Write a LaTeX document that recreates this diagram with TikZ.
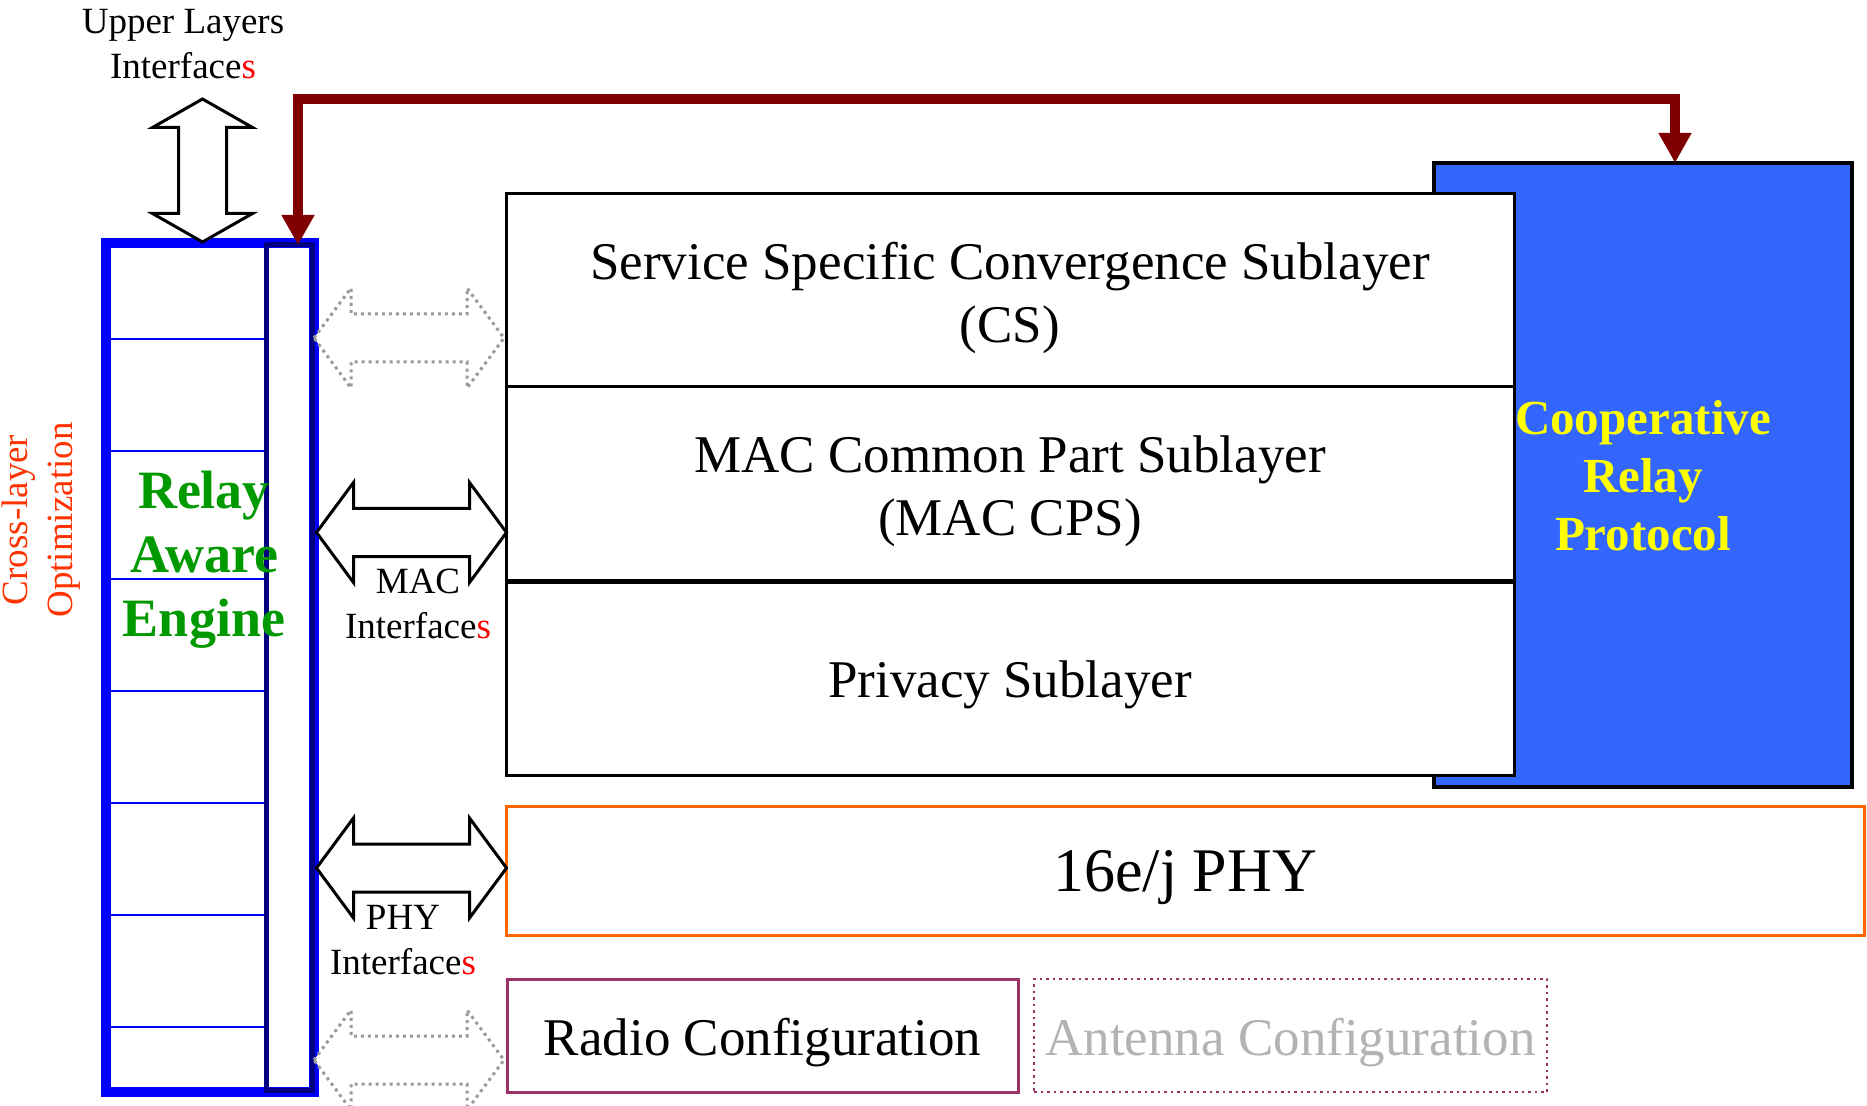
\documentclass[tikz,border=0pt]{standalone}
\usepackage{fontspec}
\setmainfont{Liberation Serif}
\usetikzlibrary{arrows.meta,calc}
\definecolor{engblue}{HTML}{0000FF}
\definecolor{engnavy}{HTML}{000080}
\definecolor{crpblue}{HTML}{3366FF}
\definecolor{darkred}{HTML}{800000}
\definecolor{phyorange}{HTML}{FF6600}
\definecolor{radiopurple}{HTML}{993366}
\definecolor{crossred}{HTML}{FF3300}
\definecolor{enggreen}{HTML}{009900}
\definecolor{antgray}{HTML}{B3B3B3}
\definecolor{dotgray}{HTML}{999999}
\definecolor{crpyellow}{HTML}{FFFF00}
\tikzset{
  pics/hdouble/.style={code={
    \path[pic actions] (-95,0) -- (-58,-50) -- (-58,-24) -- (58,-24) -- (58,-50) -- (95,0)
      -- (58,50) -- (58,24) -- (-58,24) -- (-58,50) -- cycle;}},
  pics/vdouble/.style={code={
    \path[pic actions] (0,-71.5) -- (50,-43) -- (24,-43) -- (24,43) -- (50,43) -- (0,71.5)
      -- (-50,43) -- (-24,43) -- (-24,-43) -- (-50,-43) -- cycle;}}
}
\begin{document}
\begin{tikzpicture}[x=0.5pt,y=-0.5pt,
  every node/.style={inner sep=0pt, outer sep=0pt},
  layerbox/.style={draw=black, line width=1.5pt, fill=white, rectangle},
  boxtext/.style={align=center, yshift=-3.5pt, font=\fontsize{26.5}{31.5}\selectfont},
  lbl/.style={align=center, font=\fontsize{18.5}{22.5}\selectfont},
  blockarrow/.style={draw=black, line width=1.5pt, fill=white, line join=miter},
  ghostarrow/.style={draw=dotgray, line width=1.5pt, dash pattern=on 1.5pt off 2pt, fill=white},
  redlink/.style={draw=darkred, line width=5pt,
    {Triangle[width=15.5pt,length=15pt]}-{Triangle[width=15.5pt,length=15pt]}},
  engline/.style={draw=engblue, line width=1.2pt},
]
\fill[white] (0,0) rectangle (1867,1106);
\useasboundingbox (0,0) rectangle (1867,1106);

% Cooperative relay protocol box (behind the MAC sublayers)
\node[draw=black, line width=2pt, fill=crpblue, minimum width=209pt, minimum height=312pt]
  (crp) at (1643,475) {};

% MAC sublayers
\node[layerbox, minimum width=504pt, minimum height=96.5pt] (cs) at (1010,290.5) {};
\node[layerbox, minimum width=504pt, minimum height=97pt] (cps) at (1010,484) {};
\node[layerbox, minimum width=504pt, minimum height=97pt] (priv) at (1010,678) {};
\draw[line width=2.5pt] (cps.south west) -- (cps.south east);
\node[boxtext] (cstext) at (cs) {Service Specific Convergence Sublayer\\(CS)};
\node[boxtext] (cpstext) at (cps) {MAC Common Part Sublayer\\(MAC CPS)};
\node[boxtext] (privtext) at (priv) {Privacy Sublayer};

\node[align=center, text=crpyellow, font=\fontsize{24.5}{29}\selectfont\bfseries]
  (crplabel) at (1643,476) {Cooperative\\Relay\\Protocol};

% PHY and configuration
\node[draw=phyorange, line width=1.5pt, fill=white, minimum width=679pt, minimum height=64.5pt]
  (phy) at (1185,870.5) {};
\node[boxtext, font=\fontsize{31}{36}\selectfont] (phytext) at (phy) {16e/j PHY};
\node[draw=radiopurple, line width=1.5pt, fill=white, minimum width=255.5pt, minimum height=56.5pt]
  (radio) at (762.5,1035.5) {};
\node[boxtext] (radiotext) at (radio) {Radio Configuration};
\node[draw=radiopurple, line width=1.25pt, dotted, fill=white, minimum width=256.5pt,
  minimum height=56.5pt] (antenna) at (1290.5,1035.5) {};
\node[boxtext, text=antgray] (antennatext) at (antenna) {Antenna Configuration};

% Relay aware engine
\node[draw=engblue, line width=5pt, fill=white, minimum width=104pt, minimum height=424.5pt]
  (engine) at (210,667.5) {};
\foreach \yy in {339,451,579,691,803,915,1027}{
  \draw[engline] (engine.west |- 0,\yy) -- (266.5,\yy);
}
\node[draw=engnavy, line width=2.5pt, minimum width=23pt, minimum height=422.5pt]
  (navy) at (289.5,667.5) {};
\node[align=center, text=enggreen, font=\fontsize{27}{32}\selectfont\bfseries]
  (rae) at (204,560) {Relay\\Aware\\Engine};

% Interface arrows
\pic[blockarrow] (upperarrow) at (202.5,170.5) {vdouble};
\pic[ghostarrow] (csarrow) at (409,338) {hdouble};
\pic[blockarrow] (macarrow) at (411.5,532.5) {hdouble};
\pic[blockarrow] (phyarrow) at (411.5,868) {hdouble};
\pic[ghostarrow] (cfgarrow) at (409,1060) {hdouble};

\node[lbl] (upperlbl) at (183,44) {Upper Layers\\Interface\textcolor{red}{s}};
\node[lbl] (maclbl) at (418,604) {MAC\\Interface\textcolor{red}{s}};
\node[lbl] (phylbl) at (403,940) {PHY\\Interface\textcolor{red}{s}};

\node[lbl, rotate=90, text=crossred] (cross) at (41,520) {Cross-layer\\Optimization};

% Relay link between engine and cooperative relay protocol
\draw[redlink] ([xshift=16pt]crp.north) -- ++(0,-64) -| ([xshift=4.25pt]navy.north);
\end{tikzpicture}
\end{document}
